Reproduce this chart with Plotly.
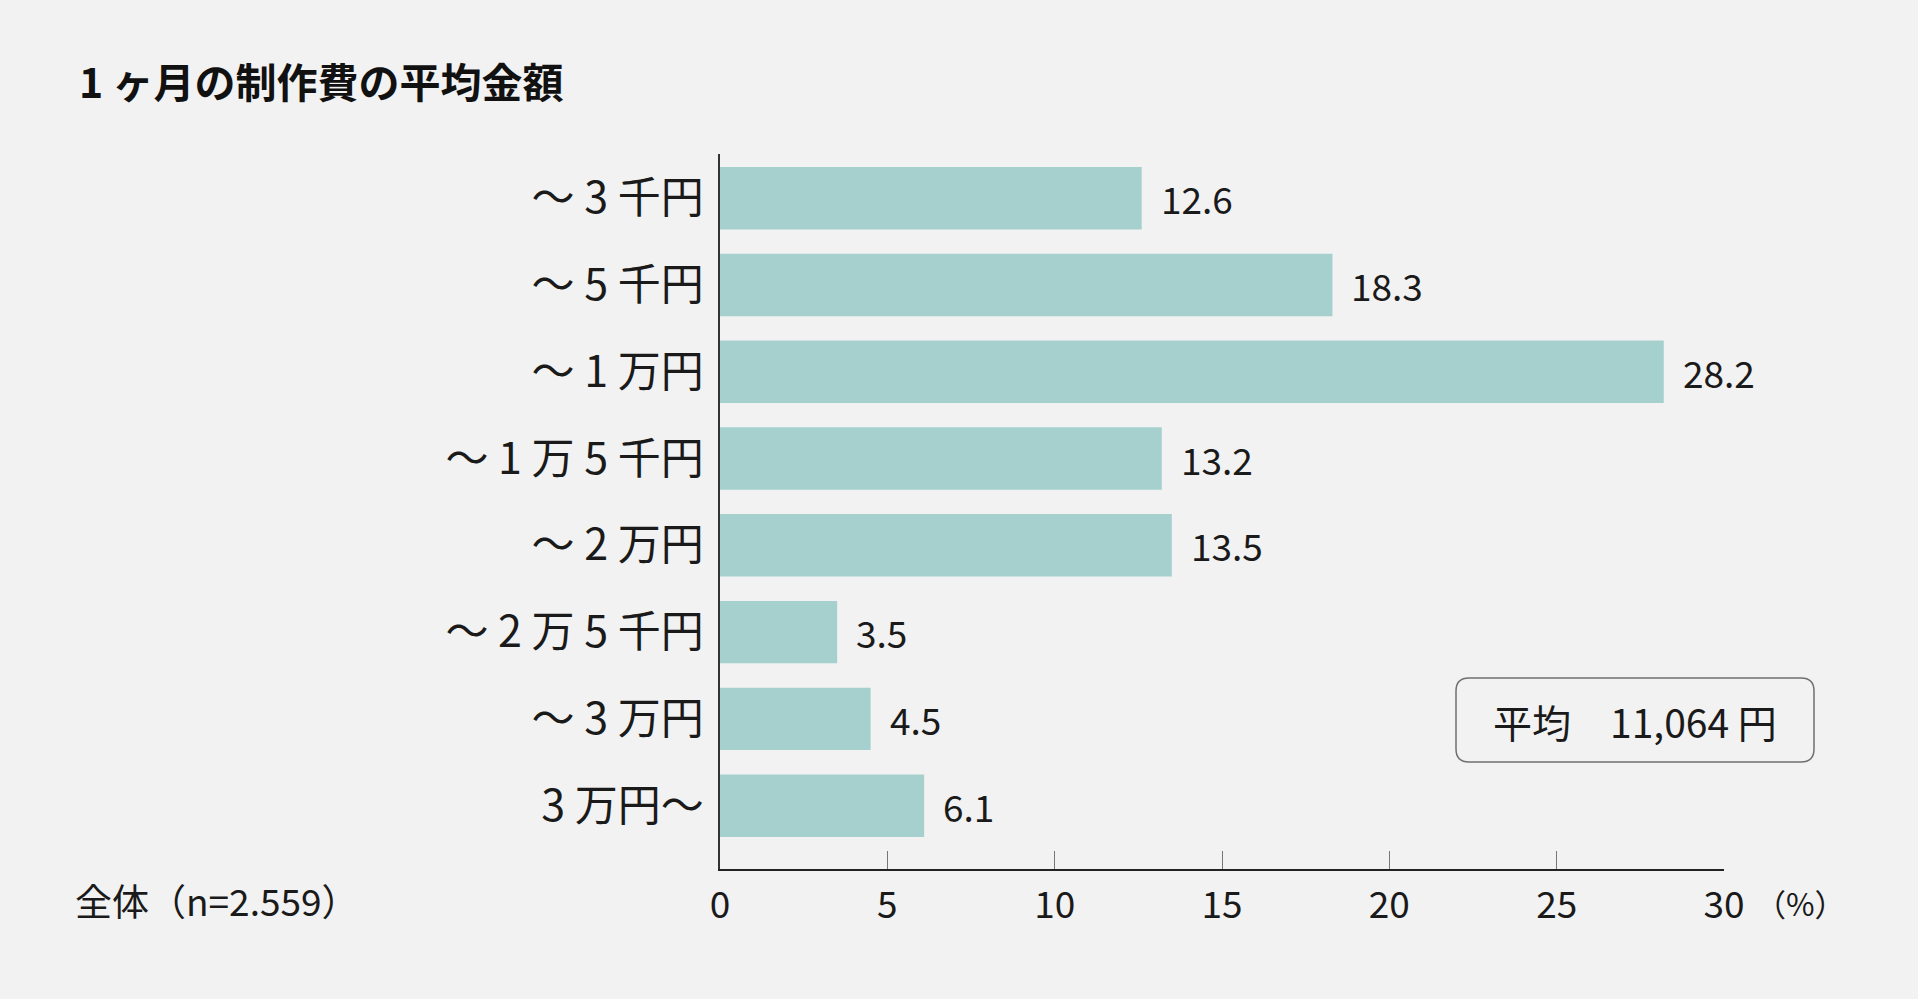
import plotly.graph_objects as go

# ---- data ----
categories = ["～ 3 千円", "～ 5 千円", "～ 1 万円", "～ 1 万 5 千円",
              "～ 2 万円", "～ 2 万 5 千円", "～ 3 万円", "3 万円～"]
values = [12.6, 18.3, 28.2, 13.2, 13.5, 3.5, 4.5, 6.1]
x_ticks = [0, 5, 10, 15, 20, 25, 30]
title_text = "1 ヶ月の制作費の平均金額"
sample_text = "全体（n=2.559）"
unit_text = "（%）"
average_text = "平均　11,064 円"

# ---- layout constants (pixels) ----
W, H = 1918, 999
L, R, T, B = 720, 194, 154, 130
PW, PH = W - L - R, H - T - B
FONT = "Noto Sans CJK JP"
TXT = "#1a1a1a"
BAR = "#a5d0cd"
BG = "#f2f2f2"


def px_x(p):
    return (p - L) / PW


def px_y(p):
    return (H - B - p) / PH


fig = go.Figure()
fig.add_trace(go.Bar(
    x=values, y=categories, orientation="h",
    marker=dict(color=BAR, line=dict(width=0)),
    width=0.72, hoverinfo="skip",
))

annotations = []
for c, v in zip(categories, values):
    annotations.append(dict(
        x=v, y=c, xref="x", yref="y", text=f"{v:.1f}", showarrow=False,
        xanchor="left", yanchor="middle", xshift=17,
        font=dict(family=FONT, size=37, color=TXT),
    ))

annotations += [
    dict(x=px_x(77), y=px_y(80), xref="paper", yref="paper", text=f"<b>{title_text}</b>",
         showarrow=False, xanchor="left", yanchor="middle",
         font=dict(family=FONT, size=41, color="#111111")),
    dict(x=px_x(73), y=px_y(900), xref="paper", yref="paper", text=sample_text,
         showarrow=False, xanchor="left", yanchor="middle",
         font=dict(family=FONT, size=37, color=TXT)),
    dict(x=px_x(1753), y=px_y(902), xref="paper", yref="paper", text=unit_text,
         showarrow=False, xanchor="left", yanchor="middle",
         font=dict(family=FONT, size=31, color=TXT)),
    dict(x=px_x(1635), y=px_y(721), xref="paper", yref="paper", text=average_text,
         showarrow=False, xanchor="center", yanchor="middle",
         font=dict(family=FONT, size=39, color=TXT)),
]

# rounded box
bx0, bx1, by0, by1, r = 1456, 1814, 678, 762, 13
X0, X1 = px_x(bx0), px_x(bx1)
Yt, Yb = px_y(by0), px_y(by1)
rx, ry = r / PW, r / PH
path = (f"M {X0+rx},{Yt} L {X1-rx},{Yt} Q {X1},{Yt} {X1},{Yt-ry} "
        f"L {X1},{Yb+ry} Q {X1},{Yb} {X1-rx},{Yb} "
        f"L {X0+rx},{Yb} Q {X0},{Yb} {X0},{Yb+ry} "
        f"L {X0},{Yt-ry} Q {X0},{Yt} {X0+rx},{Yt} Z")

fig.update_layout(
    width=W, height=H,
    margin=dict(l=L, r=R, t=T, b=B, pad=0),
    paper_bgcolor=BG, plot_bgcolor=BG,
    showlegend=False,
    annotations=annotations,
    shapes=[dict(type="path", path=path, xref="paper", yref="paper",
                 line=dict(color="#707070", width=1.5), fillcolor="rgba(0,0,0,0)")],
    xaxis=dict(
        range=[0, 30], tickvals=x_ticks, ticktext=[str(t) for t in x_ticks],
        showgrid=False, zeroline=False,
        showline=True, linecolor="#222222", linewidth=1.5,
        ticks="inside", ticklen=18, tickwidth=1.2, tickcolor="#777777",
        tickfont=dict(family=FONT, size=37, color=TXT),
        ticklabelstandoff=3, fixedrange=True,
    ),
    yaxis=dict(
        categoryorder="array", categoryarray=categories,
        range=[7.73, -0.51],
        showgrid=False, zeroline=False,
        showline=True, linecolor="#333333", linewidth=1.5,
        ticks="", tickfont=dict(family=FONT, size=43, color=TXT),
        ticklabelstandoff=6, fixedrange=True,
    ),
)

fig.write_html(
    "out.html",
    config={"displayModeBar": False},
    post_script="document.documentElement.style.margin='0';"
                "document.body.style.margin='0';"
                "document.body.style.overflow='hidden';",
)
